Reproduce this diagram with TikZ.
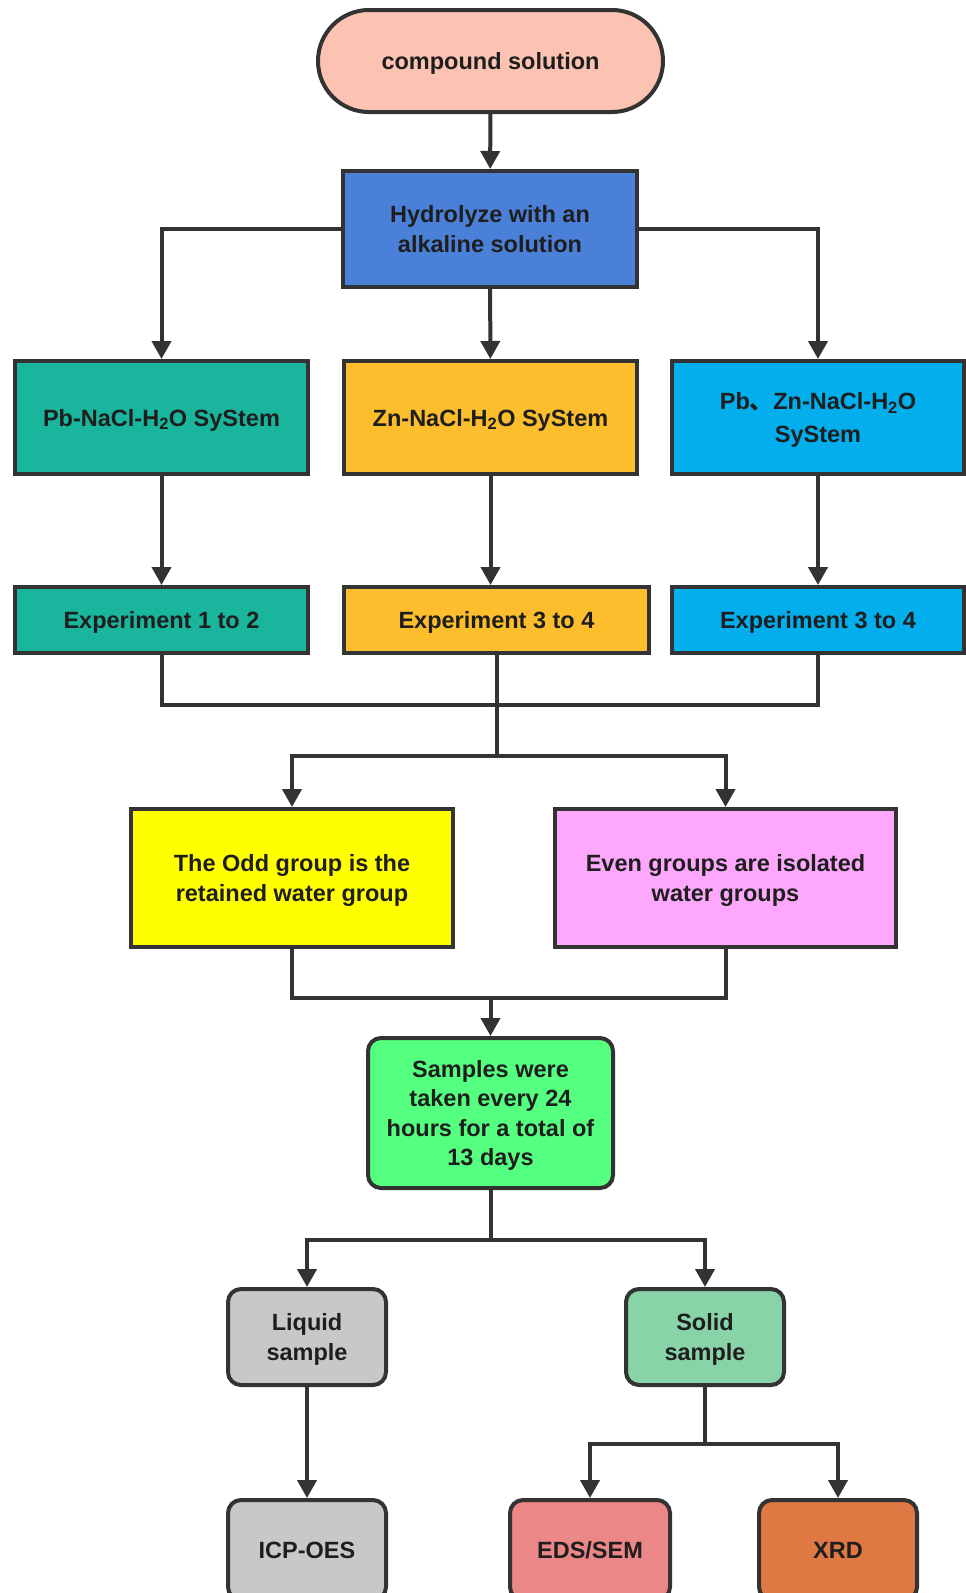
\documentclass[tikz,border=0pt]{standalone}
\usepackage{fontspec}
\setmainfont{Liberation Sans}
\newfontfamily\cjk{Noto Sans CJK SC}
\usetikzlibrary{arrows.meta}
\definecolor{lc}{HTML}{333333}
\definecolor{tc}{HTML}{1E1E1E}
\definecolor{cComp}{HTML}{FCC2B2}
\definecolor{cHyd}{HTML}{4A80D8}
\definecolor{cPb}{HTML}{19B59C}
\definecolor{cZn}{HTML}{FCBE2C}
\definecolor{cPbZn}{HTML}{02AEEC}
\definecolor{cOdd}{HTML}{FFFF00}
\definecolor{cEven}{HTML}{FDA8FD}
\definecolor{cSamp}{HTML}{55FF80}
\definecolor{cGray}{HTML}{C8C8C8}
\definecolor{cSolid}{HTML}{88D3A8}
\definecolor{cEds}{HTML}{EC8787}
\definecolor{cXrd}{HTML}{E07844}
\begin{document}
\begin{tikzpicture}[x=1pt,y=-1pt,
  box/.style={draw=lc, line width=4pt, text=tc, align=center, inner sep=0pt,
    text depth=0pt, font=\fontsize{23.5}{29.5}\selectfont\bfseries},
  rbox/.style={box, rounded corners=13pt},
  conn/.style={draw=lc, line width=4pt},
  arr/.style={conn, -{Triangle[width=19pt,length=18pt]}}]
\useasboundingbox (0,0) rectangle (966,1593);
\fill[white] (0,0) rectangle (966,1593);
% nodes
\node[box, fill=cComp, rounded corners=51pt, minimum width=345pt, minimum height=102pt] (comp) at (490.5,61) {compound solution};
\node[box, fill=cHyd, minimum width=294pt, minimum height=116pt] (hyd) at (490,229) {Hydrolyze with an\\alkaline solution};
\node[box, fill=cPb, minimum width=293pt, minimum height=113pt] (pb) at (161.5,417.5) {Pb-NaCl-H\textsubscript{2}O SyStem};
\node[box, fill=cZn, minimum width=293pt, minimum height=113pt] (zn) at (490.5,417.5) {Zn-NaCl-H\textsubscript{2}O SyStem};
\node[box, fill=cPbZn, minimum width=292pt, minimum height=113pt] (pbzn) at (818,417.5) {Pb{\cjk 、}Zn-NaCl-H\textsubscript{2}O\\[4pt]SyStem};
\node[box, fill=cPb, minimum width=293pt, minimum height=66pt] (e1) at (161.5,620) {Experiment 1 to 2};
\node[box, fill=cZn, minimum width=305pt, minimum height=66pt] (e2) at (496.5,620) {Experiment 3 to 4};
\node[box, fill=cPbZn, minimum width=292pt, minimum height=66pt] (e3) at (818,620) {Experiment 3 to 4};
\node[box, fill=cOdd, minimum width=322pt, minimum height=138pt] (odd) at (292,878) {The Odd group is the\\retained water group};
\node[box, fill=cEven, minimum width=341pt, minimum height=138pt] (even) at (725.5,878) {Even groups are isolated\\water groups};
\node[rbox, fill=cSamp, minimum width=245pt, minimum height=150pt] (samp) at (490.5,1113) {Samples were\\taken every 24\\hours for a total of\\13 days};
\node[rbox, fill=cGray, minimum width=158pt, minimum height=96pt] (liq) at (307,1337) {Liquid\\sample};
\node[rbox, fill=cSolid, minimum width=158pt, minimum height=96pt] (sol) at (705,1337) {Solid\\sample};
\node[rbox, fill=cGray, minimum width=158pt, minimum height=100pt] (icp) at (307,1550) {ICP-OES};
\node[rbox, fill=cEds, minimum width=160pt, minimum height=100pt] (eds) at (590,1550) {EDS/SEM};
\node[rbox, fill=cXrd, minimum width=158pt, minimum height=100pt] (xrd) at (838,1550) {XRD};
% junction coordinates
\coordinate (j1) at (496.5,705);
\coordinate (j2) at (496.5,756);
\coordinate (j3) at (490.5,997.5);
\coordinate (j4) at (490.5,1240);
\coordinate (j5) at (705,1443.5);
% connectors
\draw[arr] (comp) -- (hyd);
\draw[arr] (hyd.west) -| (pb.north);
\draw[arr] (hyd.east) -| (pbzn.north);
\draw[arr] (hyd) -- (zn);
\draw[arr] (pb) -- (e1);
\draw[arr] (zn.south) -- (zn.south |- e2.north);
\draw[arr] (pbzn) -- (e3);
\draw[conn] (e1.south) |- (j1) -| (e3.south);
\draw[conn] (e2.south) -- (j1) -- (j2);
\draw[arr] (j2) -| (odd.north);
\draw[arr] (j2) -| (even.north);
\draw[conn] (odd.south) |- (j3) -| (even.south);
\draw[arr] (j3) -- (samp.north);
\draw[conn] (samp.south) -- (j4);
\draw[arr] (j4) -| (liq.north);
\draw[arr] (j4) -| (sol.north);
\draw[arr] (liq) -- (icp);
\draw[conn] (sol.south) -- (j5);
\draw[arr] (j5) -| (eds.north);
\draw[arr] (j5) -| (xrd.north);
\end{tikzpicture}
\end{document}
